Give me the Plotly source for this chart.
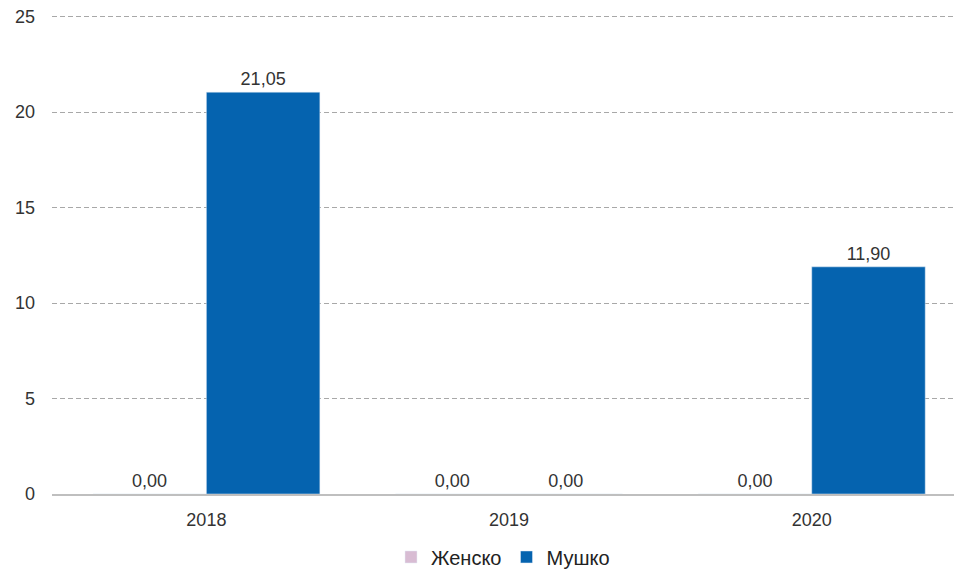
import plotly.graph_objects as go

years = ["2018", "2019", "2020"]
zensko = [0.00, 0.00, 0.00]
musko = [21.05, 0.00, 11.90]
y_ticks = [0, 5, 10, 15, 20, 25]

fig = go.Figure()
fig.add_trace(go.Bar(
    x=years, y=zensko, name="Женско",
    marker=dict(color="#D8BCD3"),
    texttemplate="%{y:.2f}", textposition="outside", constraintext="none",
    textfont=dict(size=18, color="#333333"), cliponaxis=False,
))
fig.add_trace(go.Bar(
    x=years, y=musko, name="Мушко",
    marker=dict(color="#0563AF"),
    texttemplate="%{y:.2f}", textposition="outside", constraintext="none",
    textfont=dict(size=18, color="#333333"), cliponaxis=False,
))

fig.update_layout(
    width=954, height=574,
    margin=dict(l=52, r=0, t=11, b=80, autoexpand=False),
    paper_bgcolor="white", plot_bgcolor="white",
    separators=", ",
    barmode="group", bargap=0.25, bargroupgap=0.0,
    font=dict(family="Liberation Sans, Arial, sans-serif", size=18, color="#333333"),
    showlegend=True,
    legend=dict(orientation="h", x=0.5, xanchor="center", y=-0.09, yanchor="top",
                font=dict(size=20, color="#222222"), itemwidth=30, traceorder="normal"),
    xaxis=dict(showgrid=False, showline=True, linecolor="#BFBFBF", linewidth=2,
               tickfont=dict(size=18), ticks="", range=[-0.51, 2.47],
               ticklabelstandoff=8),
    yaxis=dict(range=[0, 25.3], tickvals=y_ticks, showgrid=True, gridcolor="#A8A8A8",
               griddash="5px,3px", gridwidth=1, zeroline=False, showline=False,
               tickfont=dict(size=18), ticklabelstandoff=16),
)

fig.write_html("out.html")
